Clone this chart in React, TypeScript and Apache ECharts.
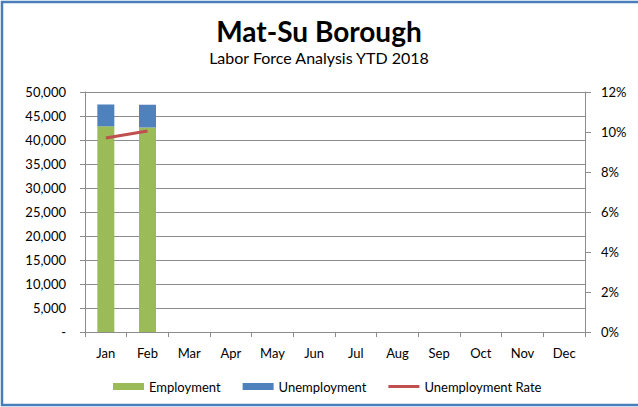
import React, { useEffect, useRef } from "react";
import * as echarts from "echarts";

const months = ["Jan", "Feb", "Mar", "Apr", "May", "Jun", "Jul", "Aug", "Sep", "Oct", "Nov", "Dec"];
const employment = [42850, 42600, null, null, null, null, null, null, null, null, null, null];
const unemployment = [4550, 4750, null, null, null, null, null, null, null, null, null, null];
const unemploymentRate = [9.7, 10.05, null, null, null, null, null, null, null, null, null, null];

const FONT = "Lato";
const GRAY = "#8c8c8c";

export default function App() {
  const ref = useRef<HTMLDivElement>(null);
  useEffect(() => {
    if (!ref.current) return;
    const chart = echarts.init(ref.current, null, { renderer: "svg" });
    chart.setOption({
      animation: false,
      backgroundColor: "#ffffff",
      textStyle: { fontFamily: FONT, color: "#000" },
      title: [
        {
          text: "Mat-Su Borough",
          left: "center",
          top: 16,
          padding: 0,
          textStyle: { fontFamily: FONT, fontSize: 28, lineHeight: 30, fontWeight: "bold", color: "#000" },
        },
        {
          text: "Labor Force Analysis YTD 2018",
          left: "center",
          top: 48,
          padding: 0,
          textStyle: { fontFamily: FONT, fontSize: 16, lineHeight: 18, fontWeight: "normal", color: "#000" },
        },
      ],
      graphic: [
        {
          type: "polyline",
          shape: { points: [[700, 2], [2, 2], [2, 405], [700, 405]] },
          style: { fill: "none", stroke: "#4a7ebb", lineWidth: 2.5 },
          silent: true,
        },
      ],
      legend: {
        left: 108,
        top: 375,
        itemWidth: 31,
        itemHeight: 7,
        itemGap: 22,
        textStyle: { fontFamily: FONT, fontSize: 13, color: "#000" },
        data: [
          { name: "Employment", icon: "rect" },
          { name: "Unemployment", icon: "rect" },
          {
            name: "Unemployment Rate",
            icon: "path://M0,0 L0.01,0 L0.01,0.01 Z M0,2 L31,2 L31,5 L0,5 Z M0,7 L0.01,7 L0.01,6.99 Z",
          },
        ],
      },
      grid: { left: 85, right: 53, top: 92, bottom: 75 },
      xAxis: {
        type: "category",
        data: months,
        boundaryGap: true,
        axisLine: { show: true, lineStyle: { color: GRAY, width: 1 } },
        axisTick: { show: true, length: 5, lineStyle: { color: GRAY } },
        axisLabel: { fontFamily: FONT, fontSize: 13, color: "#000", margin: 14 },
      },
      yAxis: [
        {
          type: "value",
          min: 0,
          max: 50000,
          interval: 5000,
          position: "left",
          axisLine: { show: true, lineStyle: { color: GRAY, width: 1 } },
          axisTick: { show: true, length: 5, lineStyle: { color: GRAY } },
          splitLine: { show: true, lineStyle: { color: GRAY, width: 1 } },
          axisLabel: {
            fontFamily: FONT,
            fontSize: 13,
            color: "#000",
            margin: 19,
            formatter: (v: number) => (v === 0 ? "-" : v.toLocaleString("en-US")),
          },
        },
        {
          type: "value",
          min: 0,
          max: 12,
          interval: 2,
          position: "right",
          axisLine: { show: true, lineStyle: { color: GRAY, width: 1 } },
          axisTick: { show: true, length: 6, lineStyle: { color: GRAY } },
          splitLine: { show: false },
          axisLabel: {
            fontFamily: FONT,
            fontSize: 13,
            color: "#000",
            margin: 16,
            formatter: "{value}%",
          },
        },
      ],
      series: [
        {
          name: "Employment",
          type: "bar",
          stack: "lf",
          data: employment,
          barWidth: 17,
          itemStyle: { color: "#9bbb59" },
        },
        {
          name: "Unemployment",
          type: "bar",
          stack: "lf",
          data: unemployment,
          barWidth: 17,
          itemStyle: { color: "#4f81bd" },
        },
        {
          name: "Unemployment Rate",
          type: "line",
          yAxisIndex: 1,
          data: unemploymentRate,
          symbol: "none",
          lineStyle: { color: "#c0504d", width: 3 },
          itemStyle: { color: "#c0504d" },
        },
      ],
    });
    return () => chart.dispose();
  }, []);
  return (
    <div
      ref={ref}
      style={{ position: "fixed", left: 0, top: 0, width: 638, height: 407 }}
    />
  );
}
